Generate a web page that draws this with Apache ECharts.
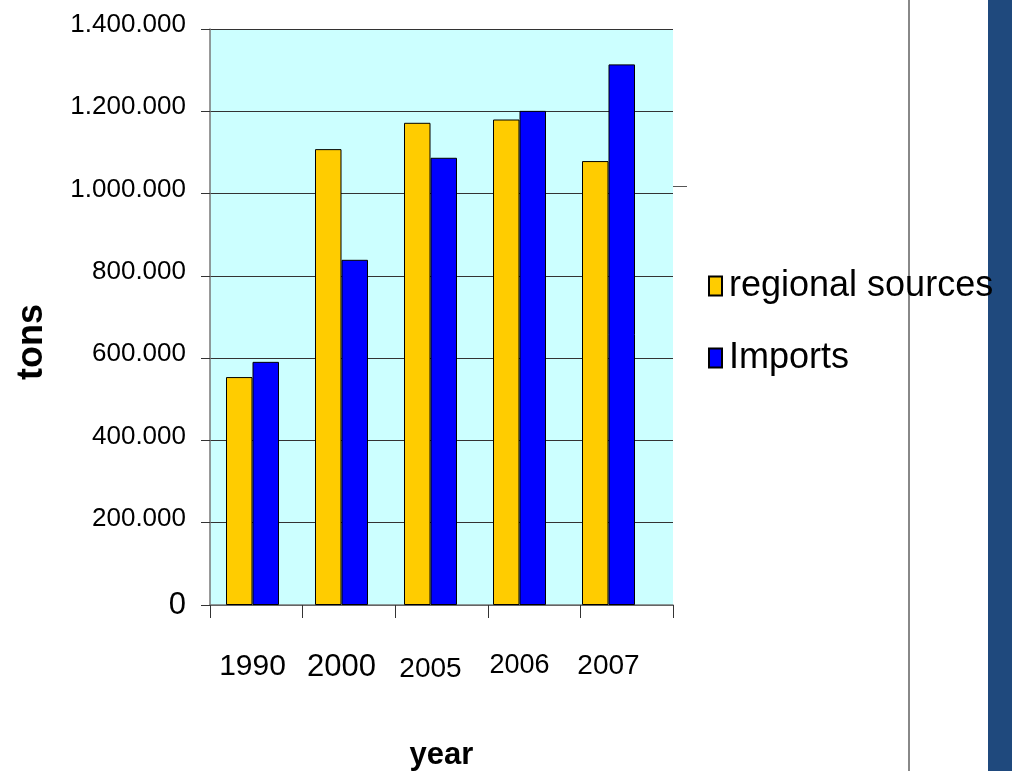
<!DOCTYPE html>
<html>
<head>
<meta charset="utf-8">
<script src="https://cdn.jsdelivr.net/npm/echarts@6/dist/echarts.min.js"></script>
<style>html,body{margin:0;padding:0;background:#fff;}#c{width:1012px;height:771px;}</style>
</head>
<body>
<div id="c"></div>
<script>
const years = ['1990', '2000', '2005', '2006', '2007'];
const regionalSources = [554000, 1108000, 1172000, 1180000, 1079000];
const imports = [591000, 839000, 1087000, 1201000, 1314000];
const yTicks = [0, 200000, 400000, 600000, 800000, 1000000, 1200000, 1400000];
const yearStyles = ['a', 'b', 'c', 'd', 'e'];

function fmtY(v) {
  if (v === 0) return '{z|0}';
  return '{n|' + String(v).replace(/\B(?=(\d{3})+(?!\d))/g, '.') + '}';
}
function fmtX(v, i) {
  return '{' + yearStyles[i] + '|' + v + '}';
}

const FONT = 'Liberation Sans, Arial, sans-serif';
const chart = echarts.init(document.getElementById('c'), null, {renderer: 'canvas'});
chart.setOption({
  animation: false,
  textStyle: {fontFamily: FONT},
  grid: [
    {left: 210, right: 339, top: 29, bottom: 166, show: true, backgroundColor: '#ccffff', borderWidth: 0, outerBoundsMode: 'none', containLabel: false},
    {left: 208, right: 359, top: 29, bottom: 166, show: false, outerBoundsMode: 'none', containLabel: false}
  ],
  xAxis: [
    {
      type: 'category', gridIndex: 0, data: years,
      name: 'year', nameLocation: 'middle', nameGap: 135,
      nameTextStyle: {fontSize: 31, fontWeight: 'bold', color: '#000'},
      axisLine: {lineStyle: {color: '#777', width: 1.5}},
      axisTick: {show: true, length: 13, lineStyle: {color: '#333'}},
      axisLabel: {show: false}
    },
    {
      type: 'category', gridIndex: 1, data: years,
      axisLine: {show: false}, axisTick: {show: false},
      axisLabel: {color: '#000', margin: 47, formatter: fmtX,
        rich: {
          a: {fontSize: 30, color: '#000'},
          b: {fontSize: 31, color: '#000'},
          c: {fontSize: 28, color: '#000', padding: [3, 0, 0, 0]},
          d: {fontSize: 27, color: '#000', padding: [0, 0, 3, 0]},
          e: {fontSize: 28, color: '#000', padding: [0, 0, 3, 0]}
        }}
    }
  ],
  yAxis: [
    {
      type: 'value', gridIndex: 0, min: 0, max: 1400000, interval: 200000,
      name: 'tons', nameLocation: 'middle', nameGap: 160, nameRotate: 90,
      nameTextStyle: {fontSize: 36, fontWeight: 'bold', color: '#000', padding: [0, 50, 0, 0]},
      axisLine: {show: true, lineStyle: {color: '#777', width: 1.5}},
      axisTick: {show: true, length: 9, lineStyle: {color: '#333'}},
      axisLabel: {color: '#000', margin: 24, formatter: fmtY,
        rich: {n: {fontSize: 26, color: '#000', padding: [0, 0, 8, 0]}, z: {fontSize: 31, color: '#000'}}},
      splitLine: {show: true, lineStyle: {color: '#333', width: 1}}
    },
    {
      type: 'value', gridIndex: 1, min: 0, max: 1400000, interval: 200000,
      show: false, splitLine: {show: false}
    }
  ],
  legend: {
    orient: 'vertical',
    left: 703, top: 262,
    itemWidth: 13, itemHeight: 19,
    itemGap: 34,
    icon: 'rect',
    textStyle: {fontSize: 36, color: '#000', padding: [0, 0, 0, 2], lineHeight: 38},
    data: ['regional sources', 'Imports'],
    z: 10
  },
  series: [
    {name: 'regional sources', type: 'bar', xAxisIndex: 1, yAxisIndex: 1, data: regionalSources, barWidth: 26.5, barGap: '0%',
      itemStyle: {color: '#ffcc00', borderColor: '#000', borderWidth: 1}},
    {name: 'Imports', type: 'bar', xAxisIndex: 1, yAxisIndex: 1, data: imports, barWidth: 26.5, barGap: '0%',
      itemStyle: {color: '#0000ff', borderColor: '#000', borderWidth: 1}}
  ],
  graphic: [
    {type: 'rect', shape: {x: 988, y: 0, width: 24, height: 771}, style: {fill: '#1f497d'}, z: 0},
    {type: 'line', shape: {x1: 909, y1: 0, x2: 909, y2: 771}, style: {stroke: '#888', lineWidth: 2}, z: 0},
    {type: 'line', shape: {x1: 673, y1: 186.5, x2: 687, y2: 186.5}, style: {stroke: '#555', lineWidth: 1}, z: 0}
  ]
});
</script>
</body>
</html>
